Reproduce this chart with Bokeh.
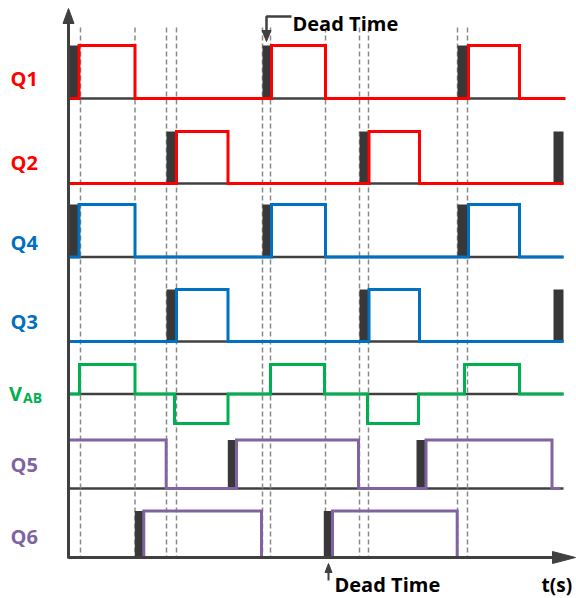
from bokeh.plotting import figure
from bokeh.models import Range1d
from bokeh.embed import file_html
from bokeh.resources import INLINE
from bokeh.core.properties import value

# ---------------- data: switching edges (time, arbitrary units) ----------------
q1_edges = [0.0, 1.05, 6.65, 20.3, 25.7, 40.0, 45.1, 49.7]
q1_levels = [0, 1, 0, 1, 0, 1, 0]
q1_dead_start = [0.0, 19.4, 38.9]
q1_dead_end = [1.0, 20.2, 39.9]

q2_edges = [0.0, 10.8, 15.95, 30.05, 35.1, 49.5]
q2_levels = [0, 1, 0, 1, 0]
q2_dead_start = [9.8, 29.1, 48.5]
q2_dead_end = [10.8, 30.0, 49.5]

q4_edges = [0.0, 1.05, 6.65, 20.3, 25.7, 40.0, 45.1, 49.5]
q4_levels = [0, 1, 0, 1, 0, 1, 0]
q4_dead_start = [0.0, 19.4, 38.9]
q4_dead_end = [1.0, 20.2, 39.9]

q3_edges = [0.0, 10.8, 15.95, 30.05, 35.1, 49.5]
q3_levels = [0, 1, 0, 1, 0]
q3_dead_start = [9.8, 29.1, 48.5]
q3_dead_end = [10.8, 30.0, 49.5]

vab_edges = [0.0, 1.1, 6.65, 10.6, 15.95, 20.2, 25.6, 29.9, 35.0, 39.6, 45.1, 49.5]
vab_levels = [0, 1, 0, -1, 0, 1, 0, -1, 0, 1, 0]

q5_edges = [0.0, 9.77, 16.8, 29.0, 35.75, 48.35, 49.2]
q5_levels = [1, 0, 1, 0, 1, 0]
q5_dead_start = [15.93, 34.8]
q5_dead_end = [16.8, 35.7]

q6_edges = [0.0, 7.53, 19.3, 26.4, 38.87, 48.2]
q6_levels = [0, 1, 0, 1, 0]
q6_dead_start = [6.63, 25.53]
q6_dead_end = [7.53, 26.4]

dashed_times = [1.2, 6.65, 9.8, 10.8, 19.4, 20.2, 25.7, 29.1, 30.0, 38.9, 39.9]

row_names = ["Q1", "Q2", "Q4", "Q3", "VAB", "Q5", "Q6"]
row_colors = ["#FF0000", "#FF0000", "#0070C0", "#0070C0", "#00B050", "#8064A2", "#8064A2"]

# ---------------- layout (screen-like vertical positions) ----------------
row_base = [98, 183, 256.5, 341, 393.5, 488, 557]
row_high = [45, 131, 204, 289, 364, 439.5, 510.5]
label_base = [78, 162, 242, 321, 393, 464, 536]

signals = [
    (q1_edges, q1_levels, q1_dead_start, q1_dead_end),
    (q2_edges, q2_levels, q2_dead_start, q2_dead_end),
    (q4_edges, q4_levels, q4_dead_start, q4_dead_end),
    (q3_edges, q3_levels, q3_dead_start, q3_dead_end),
    (vab_edges, vab_levels, [], []),
    (q5_edges, q5_levels, q5_dead_start, q5_dead_end),
    (q6_edges, q6_levels, q6_dead_start, q6_dead_end),
]

DARK = "#404040"
BAR = "#383838"
FONT = value("Open Sans")

p = figure(width=576, height=598, output_backend="svg", toolbar_location=None,
           x_range=Range1d(-6.8, 50.8), y_range=Range1d(598, 0), min_border=0,
           background_fill_color="white", border_fill_color="white")
p.axis.visible = False
p.grid.visible = False
p.outline_line_color = None


def step_xy(edges, levels, base, high):
    xs, ys = [], []
    for i, lv in enumerate(levels):
        y = base + lv * (high - base)
        xs += [edges[i], edges[i + 1]]
        ys += [y, y]
    return xs, ys


# gray baselines of each row
for k in range(6):
    p.line([0, 49.5], [row_base[k], row_base[k]], line_color=DARK, line_width=2.5)

# dashed guides
for t in dashed_times:
    p.line([t, t], [27, 556], line_color="#8a8a8a", line_width=1.5, line_dash="5 3")

# dead-time bars and signal traces
for k, (edges, levels, ds, de) in enumerate(signals):
    if ds:
        p.quad(left=ds, right=de, top=[row_high[k]] * len(ds), bottom=[row_base[k]] * len(ds),
               fill_color=BAR, line_color=None)
    xs, ys = step_xy(edges, levels, row_base[k], row_high[k])
    p.line(xs, ys, line_color=row_colors[k], line_width=3, line_join="miter")

# axes with arrows
p.line([0, 0], [558, 21], line_color=DARK, line_width=3)
p.patch([0, -0.55, 0.55], [8, 23, 23], fill_color=DARK, line_color=DARK, line_width=1)
p.line([0, 48.6], [557, 557], line_color=DARK, line_width=3)
p.patch([50.7, 48.4, 48.4], [557, 551, 563], fill_color=DARK, line_color=DARK, line_width=1)

# row labels
for k, name in enumerate(row_names):
    if name == "VAB":
        p.text(x=[-5.95], y=[label_base[k]], text=["V"], text_color=row_colors[k],
               text_font=FONT, text_font_style="bold", text_font_size="20px",
               text_baseline="alphabetic", text_align="left")
        p.text(x=[-4.55], y=[397], text=["AB"], text_color=row_colors[k],
               text_font=FONT, text_font_style="bold", text_font_size="14px",
               text_baseline="alphabetic", text_align="left")
    else:
        p.text(x=[-5.8], y=[label_base[k]], text=[name], text_color=row_colors[k],
               text_font=FONT, text_font_style="bold", text_font_size="20px",
               text_baseline="alphabetic", text_align="left")

# Dead Time annotations
p.line([22.3, 19.8, 19.8], [16, 16, 32], line_color=DARK, line_width=2.5)
p.patch([19.8, 19.35, 20.25], [41, 30, 30], fill_color=DARK, line_color=DARK, line_width=1)
p.text(x=[22.4], y=[23], text=["Dead Time"], text_color="black", text_font=FONT,
       text_font_style="bold", text_font_size="20px", text_baseline="alphabetic")

p.line([26.0, 26.0], [580, 571], line_color=DARK, line_width=2)
p.patch([26.0, 25.65, 26.35], [563, 572, 572], fill_color=DARK, line_color=DARK, line_width=1)
p.text(x=[26.6], y=[584], text=["Dead Time"], text_color="black", text_font=FONT,
       text_font_style="bold", text_font_size="20px", text_baseline="alphabetic")

p.text(x=[47.3], y=[584], text=["t(s)"], text_color="black", text_font=FONT,
       text_font_style="bold", text_font_size="19px", text_baseline="alphabetic",
       text_align="left")

open("out.html", "w").write(file_html(p, INLINE))
